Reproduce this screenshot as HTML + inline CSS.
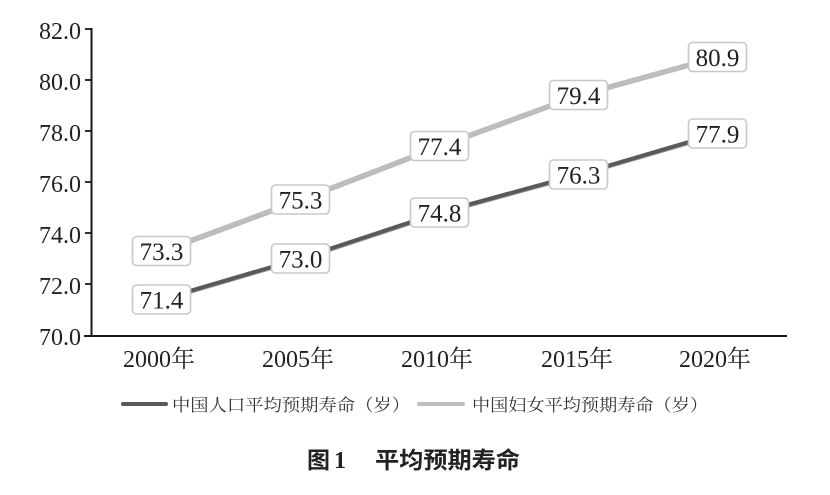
<!DOCTYPE html>
<html>
<head>
<meta charset="utf-8">
<style>
html,body{margin:0;padding:0;background:#fff;}
svg{display:block;}
</style>
</head>
<body>
<svg width="830" height="495" viewBox="0 0 830 495" xmlns="http://www.w3.org/2000/svg">
  <rect width="830" height="495" fill="#fff"/>
  <!-- axes -->
  <line x1="91.5" y1="28" x2="91.5" y2="337" stroke="#1a1a1a" stroke-width="2"/>
  <line x1="84" y1="336" x2="787" y2="336" stroke="#1a1a1a" stroke-width="2"/>
  <g stroke="#1a1a1a" stroke-width="1.8">
    <line x1="85" y1="29" x2="92" y2="29"/>
    <line x1="85" y1="80" x2="92" y2="80"/>
    <line x1="85" y1="131" x2="92" y2="131"/>
    <line x1="85" y1="182" x2="92" y2="182"/>
    <line x1="85" y1="233" x2="92" y2="233"/>
    <line x1="85" y1="284" x2="92" y2="284"/>
  </g>
  <g font-family="'Liberation Serif', serif" font-size="24" fill="#222" text-anchor="end">
    <text x="81" y="39">82.0</text>
    <text x="81" y="90">80.0</text>
    <text x="81" y="141">78.0</text>
    <text x="81" y="192">76.0</text>
    <text x="81" y="243">74.0</text>
    <text x="81" y="294">72.0</text>
    <text x="81" y="345">70.0</text>
  </g>
  <!-- x labels -->
  <g font-family="'Liberation Serif', 'Noto Serif CJK SC', serif" font-size="24" fill="#222" text-anchor="middle">
    <text x="159" y="367">2000年</text>
    <text x="298" y="367">2005年</text>
    <text x="437" y="367">2010年</text>
    <text x="577" y="367">2015年</text>
    <text x="715" y="367">2020年</text>
  </g>
  <!-- female line -->
  <polyline points="161.5,252.4 300.5,200.9 439.5,147.3 578.5,96.3 717.5,58" fill="none" stroke="#9a9a9a" stroke-width="4" stroke-linejoin="round" opacity="0.7"/>
  <polyline points="161.5,251 300.5,199.5 439.5,146 578.5,95 717.5,56.7" fill="none" stroke="#bdbdbd" stroke-width="4.5" stroke-linejoin="round"/>
  <!-- total line -->
  <polyline points="161.5,300.5 300.5,259.7 439.5,213.8 578.5,175.6 717.5,134.8" fill="none" stroke="#3a3a3a" stroke-width="3.5" stroke-linejoin="round" opacity="0.5"/>
  <polyline points="161.5,299.3 300.5,258.5 439.5,212.6 578.5,174.4 717.5,133.6" fill="none" stroke="#5a5a5a" stroke-width="4" stroke-linejoin="round"/>
  <!-- labels boxes -->
  <g fill="#fff" stroke="#c8c8c8" stroke-width="1.6">
    <rect x="132.5" y="236.5" width="58" height="29" rx="4"/>
    <rect x="271.5" y="185" width="58" height="29" rx="4"/>
    <rect x="410.5" y="131.5" width="58" height="29" rx="4"/>
    <rect x="549.5" y="80.5" width="58" height="29" rx="4"/>
    <rect x="688.5" y="42.5" width="58" height="29" rx="4"/>
    <rect x="132.5" y="285" width="58" height="29" rx="4"/>
    <rect x="271.5" y="244" width="58" height="29" rx="4"/>
    <rect x="410.5" y="198" width="58" height="29" rx="4"/>
    <rect x="549.5" y="160" width="58" height="29" rx="4"/>
    <rect x="688.5" y="119" width="58" height="29" rx="4"/>
  </g>
  <g font-family="'Liberation Serif', serif" font-size="25" fill="#222" text-anchor="middle">
    <text x="161.5" y="260">73.3</text>
    <text x="300.5" y="208.5">75.3</text>
    <text x="439.5" y="155">77.4</text>
    <text x="578.5" y="104">79.4</text>
    <text x="717.5" y="66">80.9</text>
    <text x="161.5" y="308.5">71.4</text>
    <text x="300.5" y="267.5">73.0</text>
    <text x="439.5" y="221.5">74.8</text>
    <text x="578.5" y="183.5">76.3</text>
    <text x="717.5" y="142.5">77.9</text>
  </g>
  <!-- legend -->
  <line x1="123" y1="404" x2="166" y2="404" stroke="#5a5a5a" stroke-width="4" stroke-linecap="round"/>
  <text x="172" y="411" font-family="'Noto Serif CJK SC', 'Noto Sans CJK SC', serif" font-size="17" fill="#333" textLength="238" lengthAdjust="spacingAndGlyphs">中国人口平均预期寿命（岁）</text>
  <line x1="419" y1="404" x2="463" y2="404" stroke="#bdbdbd" stroke-width="4" stroke-linecap="round"/>
  <text x="472" y="411" font-family="'Noto Serif CJK SC', 'Noto Sans CJK SC', serif" font-size="17" fill="#333" textLength="236" lengthAdjust="spacingAndGlyphs">中国妇女平均预期寿命（岁）</text>
  <!-- title -->
  <text x="307" y="468" font-family="'Noto Sans CJK SC', sans-serif" font-weight="bold" font-size="23" fill="#222">图</text>
  <text x="334" y="468" font-family="'Liberation Serif', serif" font-weight="bold" font-size="24" fill="#222">1</text>
  <text x="375" y="468" font-family="'Noto Sans CJK SC', sans-serif" font-weight="bold" font-size="23" fill="#222" textLength="145" lengthAdjust="spacingAndGlyphs">平均预期寿命</text>
</svg>
</body>
</html>
